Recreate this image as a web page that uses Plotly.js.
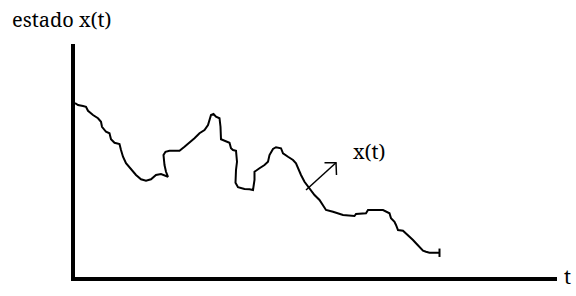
<!DOCTYPE html>
<html>
<head>
<meta charset="utf-8">
<script src="https://cdn.plot.ly/plotly-3.0.1.min.js"></script>
<style>html,body{margin:0;padding:0;background:#fff;}#chart{width:576px;height:296px;}</style>
</head>
<body>
<div id="chart"></div>
<script>
// time (arbitrary units) and state x(t)
var tValues = [0, 0.6, 1.6, 2.2, 2.6, 3.6, 4.6, 5.2, 5.4, 6.2, 6.9, 7.2, 7.9, 8.9, 9.2, 9.6, 10.2, 11.2, 12.2, 13.2, 14.2, 15.2, 16.2, 17.2, 18.2, 18.6, 18.2, 17.9, 17.7, 18.1, 18.9, 20.9, 21.9, 22.9, 23.9, 24.9, 25.9, 26.6, 26.9, 27.2, 27.7, 28.2, 28.9, 29.1, 29.2, 29.9, 30.9, 31.2, 31.6, 32.2, 32.4, 32.2, 32.1, 32.6, 33.9, 34.9, 35.6, 35.9, 35.9, 36.9, 37.9, 38.6, 38.9, 39.6, 40.2, 41.2, 41.6, 42.6, 43.6, 44.2, 44.6, 45.2, 45.9, 46.6, 47.2, 47.9, 48.9, 49.6, 50.2, 51.6, 53.6, 55.9, 56.2, 58.2, 58.6, 61.6, 62.2, 62.9, 63.2, 63.9, 64.2, 64.6, 65.6, 66.2, 66.9, 67.6, 68.2, 68.9, 69.6, 70.2, 70.9, 72.9];
var xValues = [69.6, 68.8, 68.4, 68.1, 66.5, 64.8, 63.5, 62.1, 60.1, 58.1, 57.5, 55.1, 53.7, 53.2, 50.8, 48.1, 45.5, 43.1, 40.8, 39.1, 38.5, 39.1, 40.8, 41.2, 40.4, 40.1, 42.1, 44.8, 48.8, 50.1, 50.5, 50.5, 52.1, 53.7, 55.5, 57.5, 58.8, 60.8, 62.8, 64.8, 65.2, 64.1, 63.5, 60.1, 55.1, 54.5, 53.7, 51.5, 50.8, 50.5, 46.1, 42.8, 37.7, 35.9, 35.2, 35.1, 34.8, 38.8, 42.1, 43.5, 44.8, 46.1, 48.8, 51.2, 51.9, 51.5, 49.5, 48.1, 46.8, 45.5, 43.5, 40.8, 38.1, 36.1, 34.8, 32.8, 30.8, 28.8, 26.8, 26.1, 24.8, 24.4, 25.2, 25.5, 26.8, 26.8, 26.1, 25.5, 23.5, 22.1, 20.8, 18.8, 18.5, 17.5, 16.1, 14.8, 13.5, 11.9, 10.5, 10.1, 9.7, 9.7];
// pointer arrow towards the label: tail, tip, then the two head strokes
var arrowT = [46.2, 52.2, null, 49.9, 52.2, 52.3];
var arrowX = [34.8, 45.7, null, 45.7, 45.7, 40.8];
var curveLabel = 'x(t)';
var labelT = 58.7, labelX = 50.4;
var yAxisLabel = 'estado x(t)';
var xAxisLabel = 't';

var serif = "'Noto Serif', 'Liberation Serif', serif";

var traces = [
  {x: tValues, y: xValues, type: 'scatter', mode: 'lines', line: {color: '#000', width: 2}, hoverinfo: 'skip', showlegend: false},
  {x: [tValues[tValues.length-1]], y: [xValues[xValues.length-1]], type: 'scatter', mode: 'markers',
   marker: {symbol: 'line-ns-open', size: 6, color: '#000', line: {color: '#000', width: 2}}, showlegend: false, hoverinfo: 'skip'},
  {x: arrowT, y: arrowX, type: 'scatter', mode: 'lines', line: {color: '#000', width: 1.5}, hoverinfo: 'skip', showlegend: false, connectgaps: false}
];

var L = 75, R = 576 - 19, T = 44, B = 296 - 19;
function px(xp) { return (xp - L) / (R - L); }
function py(yp) { return (B - yp) / (B - T); }

var layout = {
  width: 576, height: 296,
  margin: {l: 75, r: 19, t: 44, b: 19},
  paper_bgcolor: '#fff', plot_bgcolor: '#fff',
  showlegend: false,
  font: {family: serif, color: '#000'},
  xaxis: {range: [0, 96.4], showline: true, linewidth: 4, linecolor: '#000', showgrid: false, zeroline: false, showticklabels: false, ticks: ''},
  yaxis: {range: [0, 93.2], showline: true, linewidth: 4, linecolor: '#000', showgrid: false, zeroline: false, showticklabels: false, ticks: ''},
  annotations: [
    {x: labelT, y: labelX, xref: 'x', yref: 'y', text: curveLabel, showarrow: false, xanchor: 'center', yanchor: 'middle', font: {family: serif, size: 20, color: '#000'}},
    {x: px(10), y: py(20), xref: 'paper', yref: 'paper', text: yAxisLabel, showarrow: false, xanchor: 'left', yanchor: 'middle', font: {family: serif, size: 20, color: '#000'}},
    {x: px(567.5), y: py(276), xref: 'paper', yref: 'paper', text: xAxisLabel, showarrow: false, xanchor: 'center', yanchor: 'middle', font: {family: serif, size: 20, color: '#000'}}
  ]
};

Plotly.newPlot('chart', traces, layout, {staticPlot: true, displayModeBar: false});
</script>
</body>
</html>
